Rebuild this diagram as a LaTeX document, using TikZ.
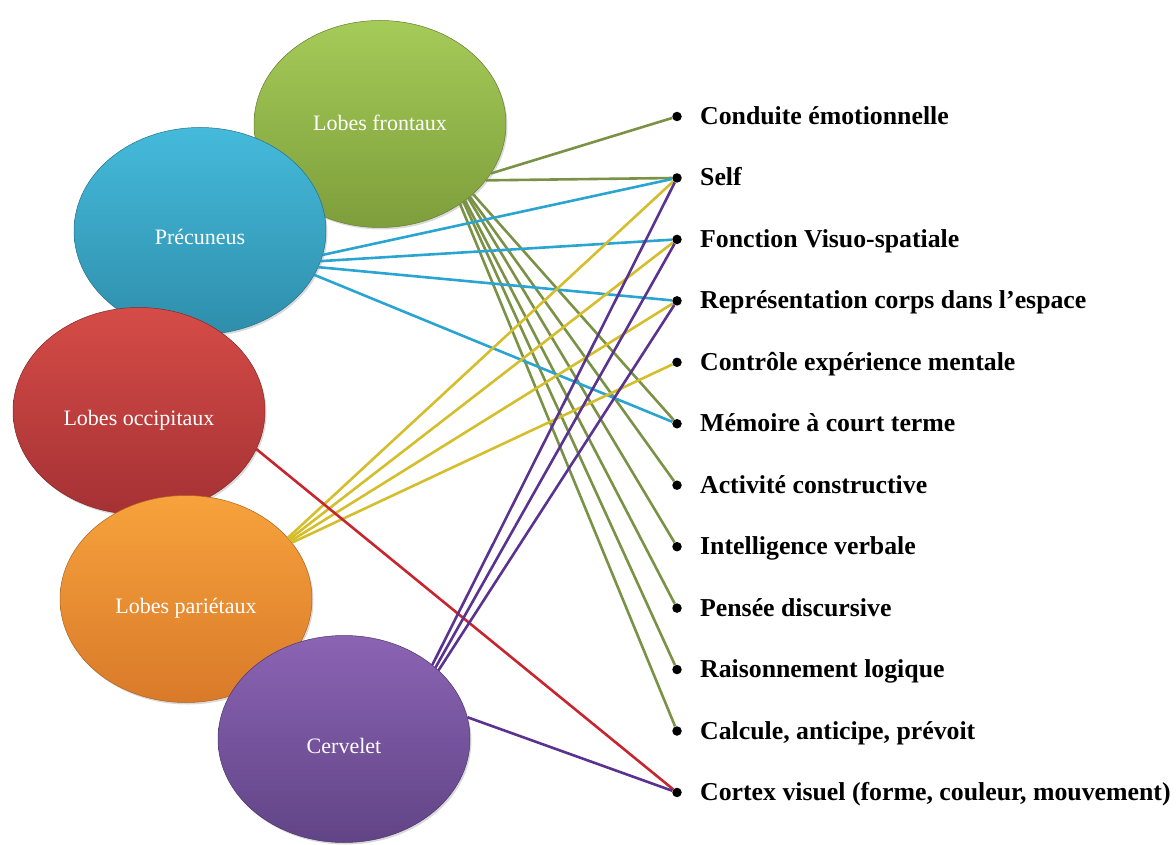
\documentclass[tikz,border=0pt]{standalone}
\usepackage{fontspec}
\setmainfont{Liberation Serif}
\usepackage{xcolor}
\usetikzlibrary{positioning,shapes.geometric,shadows}

\definecolor{frontTop}{HTML}{A5CB59}
\definecolor{frontBot}{HTML}{7E9E3B}
\definecolor{precTop}{HTML}{45BADB}
\definecolor{precBot}{HTML}{2E8EAB}
\definecolor{occipTop}{HTML}{D54C47}
\definecolor{occipBot}{HTML}{A53134}
\definecolor{parietTop}{HTML}{F7A23C}
\definecolor{parietBot}{HTML}{D97A2A}
\definecolor{cervTop}{HTML}{8B64B4}
\definecolor{cervBot}{HTML}{614486}
\definecolor{greenLine}{HTML}{7A9246}
\definecolor{blueLine}{HTML}{2AA4D0}
\definecolor{yellowLine}{HTML}{D5BE2C}
\definecolor{purpleLine}{HTML}{5A3290}
\definecolor{redLine}{HTML}{C8262E}

\begin{document}
\begin{tikzpicture}[
    x=1pt, y=-1pt,
    node distance=61.45pt,
    lobe/.style={ellipse, minimum width=252pt, minimum height=207pt, inner sep=0pt,
        text=white, font=\fontsize{22}{26}\selectfont, text height=28pt, text depth=0pt,
        drop shadow={opacity=0.3, shadow xshift=1.5pt, shadow yshift=-2pt}},
    dot/.style={circle, fill=black, minimum size=9.5pt, inner sep=0pt},
    item/.style={inner sep=0pt, text height=18pt, text depth=2pt,
        font=\fontsize{25.8}{30}\selectfont\bfseries},
    link/.style={line width=2.6pt}
]
\useasboundingbox (0,0) rectangle (1176,845);

% lobes, back to front
\node[lobe, text height=13pt, top color=frontTop, bottom color=frontBot, draw=frontBot!80!black, line width=0.5pt] (front) at (380,124) {Lobes frontaux};
\node[lobe, top color=precTop, bottom color=precBot, draw=precBot!80!black, line width=0.5pt] (prec) at (200,231) {Précuneus};
\node[lobe, top color=occipTop, bottom color=occipBot, draw=occipBot!80!black, line width=0.5pt] (occip) at (139,411) {Lobes occipitaux};
\node[lobe, top color=parietTop, bottom color=parietBot, draw=parietBot!80!black, line width=0.5pt] (pariet) at (186,599) {Lobes pariétaux};
\node[lobe, top color=cervTop, bottom color=cervBot, draw=cervBot!80!black, line width=0.5pt] (cerv) at (344,739) {Cervelet};

% functions
\node[dot] (emo) at (677,116.5) {};
\node[dot, below of=emo] (self) {};
\node[dot, below of=self] (visuo) {};
\node[dot, below of=visuo] (corps) {};
\node[dot, below of=corps] (ctrl) {};
\node[dot, below of=ctrl] (mem) {};
\node[dot, below of=mem] (constr) {};
\node[dot, below of=constr] (verb) {};
\node[dot, below of=verb] (disc) {};
\node[dot, below of=disc] (logi) {};
\node[dot, below of=logi] (calc) {};
\node[dot, below of=calc] (cortex) {};

\node[item, right=18pt of emo] (emo-t) {Conduite émotionnelle};
\node[item, right=18pt of self] (self-t) {Self};
\node[item, right=18pt of visuo] (visuo-t) {Fonction Visuo-spatiale};
\node[item, right=18pt of corps] (corps-t) {Représentation corps dans l’espace};
\node[item, right=18pt of ctrl] (ctrl-t) {Contrôle expérience mentale};
\node[item, right=18pt of mem] (mem-t) {Mémoire à court terme};
\node[item, right=18pt of constr] (constr-t) {Activité constructive};
\node[item, right=18pt of verb] (verb-t) {Intelligence verbale};
\node[item, right=18pt of disc] (disc-t) {Pensée discursive};
\node[item, right=18pt of logi] (logi-t) {Raisonnement logique};
\node[item, right=18pt of calc] (calc-t) {Calcule, anticipe, prévoit};
\node[item, right=18pt of cortex] (cortex-t) {Cortex visuel (forme, couleur, mouvement)};

% frontal links
\draw[link, greenLine] (front.-24) -- (emo);
\draw[link, greenLine] (front.-28) -- (self);
\draw[link, greenLine] (front.-37) -- (mem);
\draw[link, greenLine] (front.-39) -- (constr);
\draw[link, greenLine] (front.-40.5) -- (verb);
\draw[link, greenLine] (front.-42) -- (disc);
\draw[link, greenLine] (front.-43.5) -- (logi);
\draw[link, greenLine] (front.-45) -- (calc);

% precuneus links
\draw[link, blueLine] (prec.-11) -- (self);
\draw[link, blueLine] (prec.-14) -- (visuo);
\draw[link, blueLine] (prec.-17.5) -- (corps);
\draw[link, blueLine] (prec.-21.5) -- (mem);

% parietal links
\draw[link, yellowLine] (pariet.31) -- (self);
\draw[link, yellowLine] (pariet.30) -- (visuo);
\draw[link, yellowLine] (pariet.29) -- (corps);
\draw[link, yellowLine] (pariet.28) -- (ctrl);

% occipital link
\draw[link, redLine] (occip.-18) -- (cortex);

% cerebellum links
\draw[link, purpleLine] (cerv.40) -- (self);
\draw[link, purpleLine] (cerv.38) -- (visuo);
\draw[link, purpleLine] (cerv.36) -- (corps);
\draw[link, purpleLine] (cerv.10) -- (cortex);
\end{tikzpicture}
\end{document}
